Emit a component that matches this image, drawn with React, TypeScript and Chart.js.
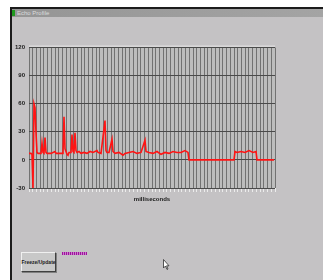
import React, { useEffect, useRef } from "react";
import { Chart, registerables } from "chart.js";

Chart.register(...registerables);

const times = [0, 8, 12, 16, 20, 24, 28, 32, 36, 44, 48, 52, 56, 60, 64, 68, 72, 88, 104, 108, 132, 136, 140, 144, 148, 152, 156, 160, 168, 172, 176, 180, 184, 188, 192, 200, 208, 220, 232, 244, 256, 272, 276, 288, 304, 308, 312, 320, 332, 336, 344, 360, 376, 384, 400, 416, 432, 448, 464, 468, 480, 496, 512, 528, 544, 560, 576, 592, 608, 624, 636, 640, 820, 824, 832, 848, 864, 880, 896, 908, 912, 980];
const echo = [7, 7, 6, -30, 60, 56, 29, 8, 7, 7, 7, 18, 8, 7, 24, 8, 7, 7, 9, 7, 7, 7, 46, 12, 9, 6, 5, 8, 8, 27, 9, 8, 29, 10, 8, 9, 7, 8, 7, 9, 8, 10, 8, 7, 42, 10, 8, 8, 22, 9, 7, 8, 5, 7, 8, 9, 7, 8, 21, 9, 8, 7, 9, 6, 8, 7, 9, 8, 8, 10, 8, 0, 0, 9, 8, 9, 8, 10, 8, 9, 0, 0];
const yMin = -30;
const yMax = 120;
const yStep = 30;
const xMax = 984;
const xDivisions = 66;
const title = "Echo Profile";
const xTitle = "milliseconds";
const buttonText = "Freeze/Update";

const bgPlugin = {
  id: "plotBg",
  beforeDraw(chart: any) {
    const { ctx, chartArea } = chart;
    ctx.save();
    ctx.fillStyle = "#bdbdbd";
    ctx.fillRect(chartArea.left, chartArea.top, chartArea.right - chartArea.left, chartArea.bottom - chartArea.top);
    ctx.strokeStyle = "#e6e6e6";
    ctx.beginPath();
    ctx.moveTo(chartArea.left, chartArea.top - 1.5);
    ctx.lineTo(chartArea.right, chartArea.top - 1.5);
    ctx.stroke();
    ctx.restore();
  },
};

function EchoChart() {
  const ref = useRef<HTMLCanvasElement>(null);
  useEffect(() => {
    if (!ref.current) return;
    const chart = new Chart(ref.current, {
      type: "line",
      data: {
        datasets: [
          {
            data: times.map((t, i) => ({ x: t, y: echo[i] })),
            borderColor: "#ff1414",
            borderWidth: 1.6,
            pointRadius: 0,
            tension: 0,
          },
        ],
      },
      options: {
        animation: false,
        responsive: false,
        layout: { padding: { top: 7, right: 7, bottom: 0, left: 0 } },
        plugins: { legend: { display: false }, tooltip: { enabled: false } },
        scales: {
          x: {
            type: "linear",
            min: 0,
            max: xMax,
            ticks: { display: false, stepSize: xMax / xDivisions },
            grid: { color: "#727272", tickColor: "#ececec", tickLength: 4, lineWidth: 1 },
            border: { display: false },
            title: {
              display: true,
              text: xTitle,
              color: "#1a1a1a",
              font: { family: "Liberation Sans", size: 6, weight: "bold" },
              padding: { top: 0, bottom: 7 },
            },
            afterFit: (s: any) => {
              s.height = 22;
            },
          },
          y: {
            min: yMin,
            max: yMax,
            ticks: {
              stepSize: yStep,
              color: "#1a1a1a",
              padding: 4,
              font: { family: "Liberation Sans", size: 6, weight: "bold" },
            },
            grid: { color: "#4a4a4a", drawTicks: false, lineWidth: 1 },
            border: { display: false },
            afterFit: (s: any) => {
              s.width = 17;
            },
          },
        },
      },
      plugins: [bgPlugin],
    });
    return () => chart.destroy();
  }, []);
  return <canvas ref={ref} width={270} height={170} style={{ position: "absolute", left: 12, top: 40, width: 270, height: 170 }} />;
}

export default function App() {
  return (
    <div style={{ position: "fixed", left: 0, top: 0, width: 323, height: 280, background: "#ffffff", overflow: "hidden", fontFamily: "Liberation Sans" }}>
      <div style={{ position: "absolute", left: 10, top: 7, right: 0, bottom: 0, borderLeft: "2px solid #1c1c1c", borderTop: "2px solid #1c1c1c", background: "#c4c2c4" }} />
      <div style={{ position: "absolute", left: 12, top: 9, right: 0, height: 8, background: "linear-gradient(to right, #959595, #a4a4a4)" }} />
      <div style={{ position: "absolute", left: 12, top: 10, width: 3, height: 6, background: "#1f9a1f" }} />
      <div style={{ position: "absolute", left: 17, top: 9, height: 8, lineHeight: "8px", fontSize: 6, color: "#dcdcdc" }}>{title}</div>
      <EchoChart />
      <div style={{ position: "absolute", left: 21, top: 252, width: 33, height: 18, background: "#c8c8c8", borderTop: "1px solid #f0f0f0", borderLeft: "1px solid #f0f0f0", borderRight: "1px solid #404040", borderBottom: "1px solid #404040", boxShadow: "1px 1px 0 #808080", display: "flex", alignItems: "center", justifyContent: "center", fontSize: 5, fontWeight: "bold", color: "#202020", whiteSpace: "nowrap" }}>{buttonText}</div>
      <div style={{ position: "absolute", left: 62, top: 252, width: 25, height: 3, background: "repeating-linear-gradient(to right, #a010a0 0px, #a010a0 1px, #c880c8 1px, #c880c8 2px)" }} />
      <svg style={{ position: "absolute", left: 163, top: 259 }} width={7} height={12}>
        <path d="M0.5 0.5 L0.5 9 L2.5 7 L4 10.5 L5 10 L3.6 6.8 L6 6.8 Z" fill="#ffffff" stroke="#303030" strokeWidth={0.8} />
      </svg>
    </div>
  );
}
